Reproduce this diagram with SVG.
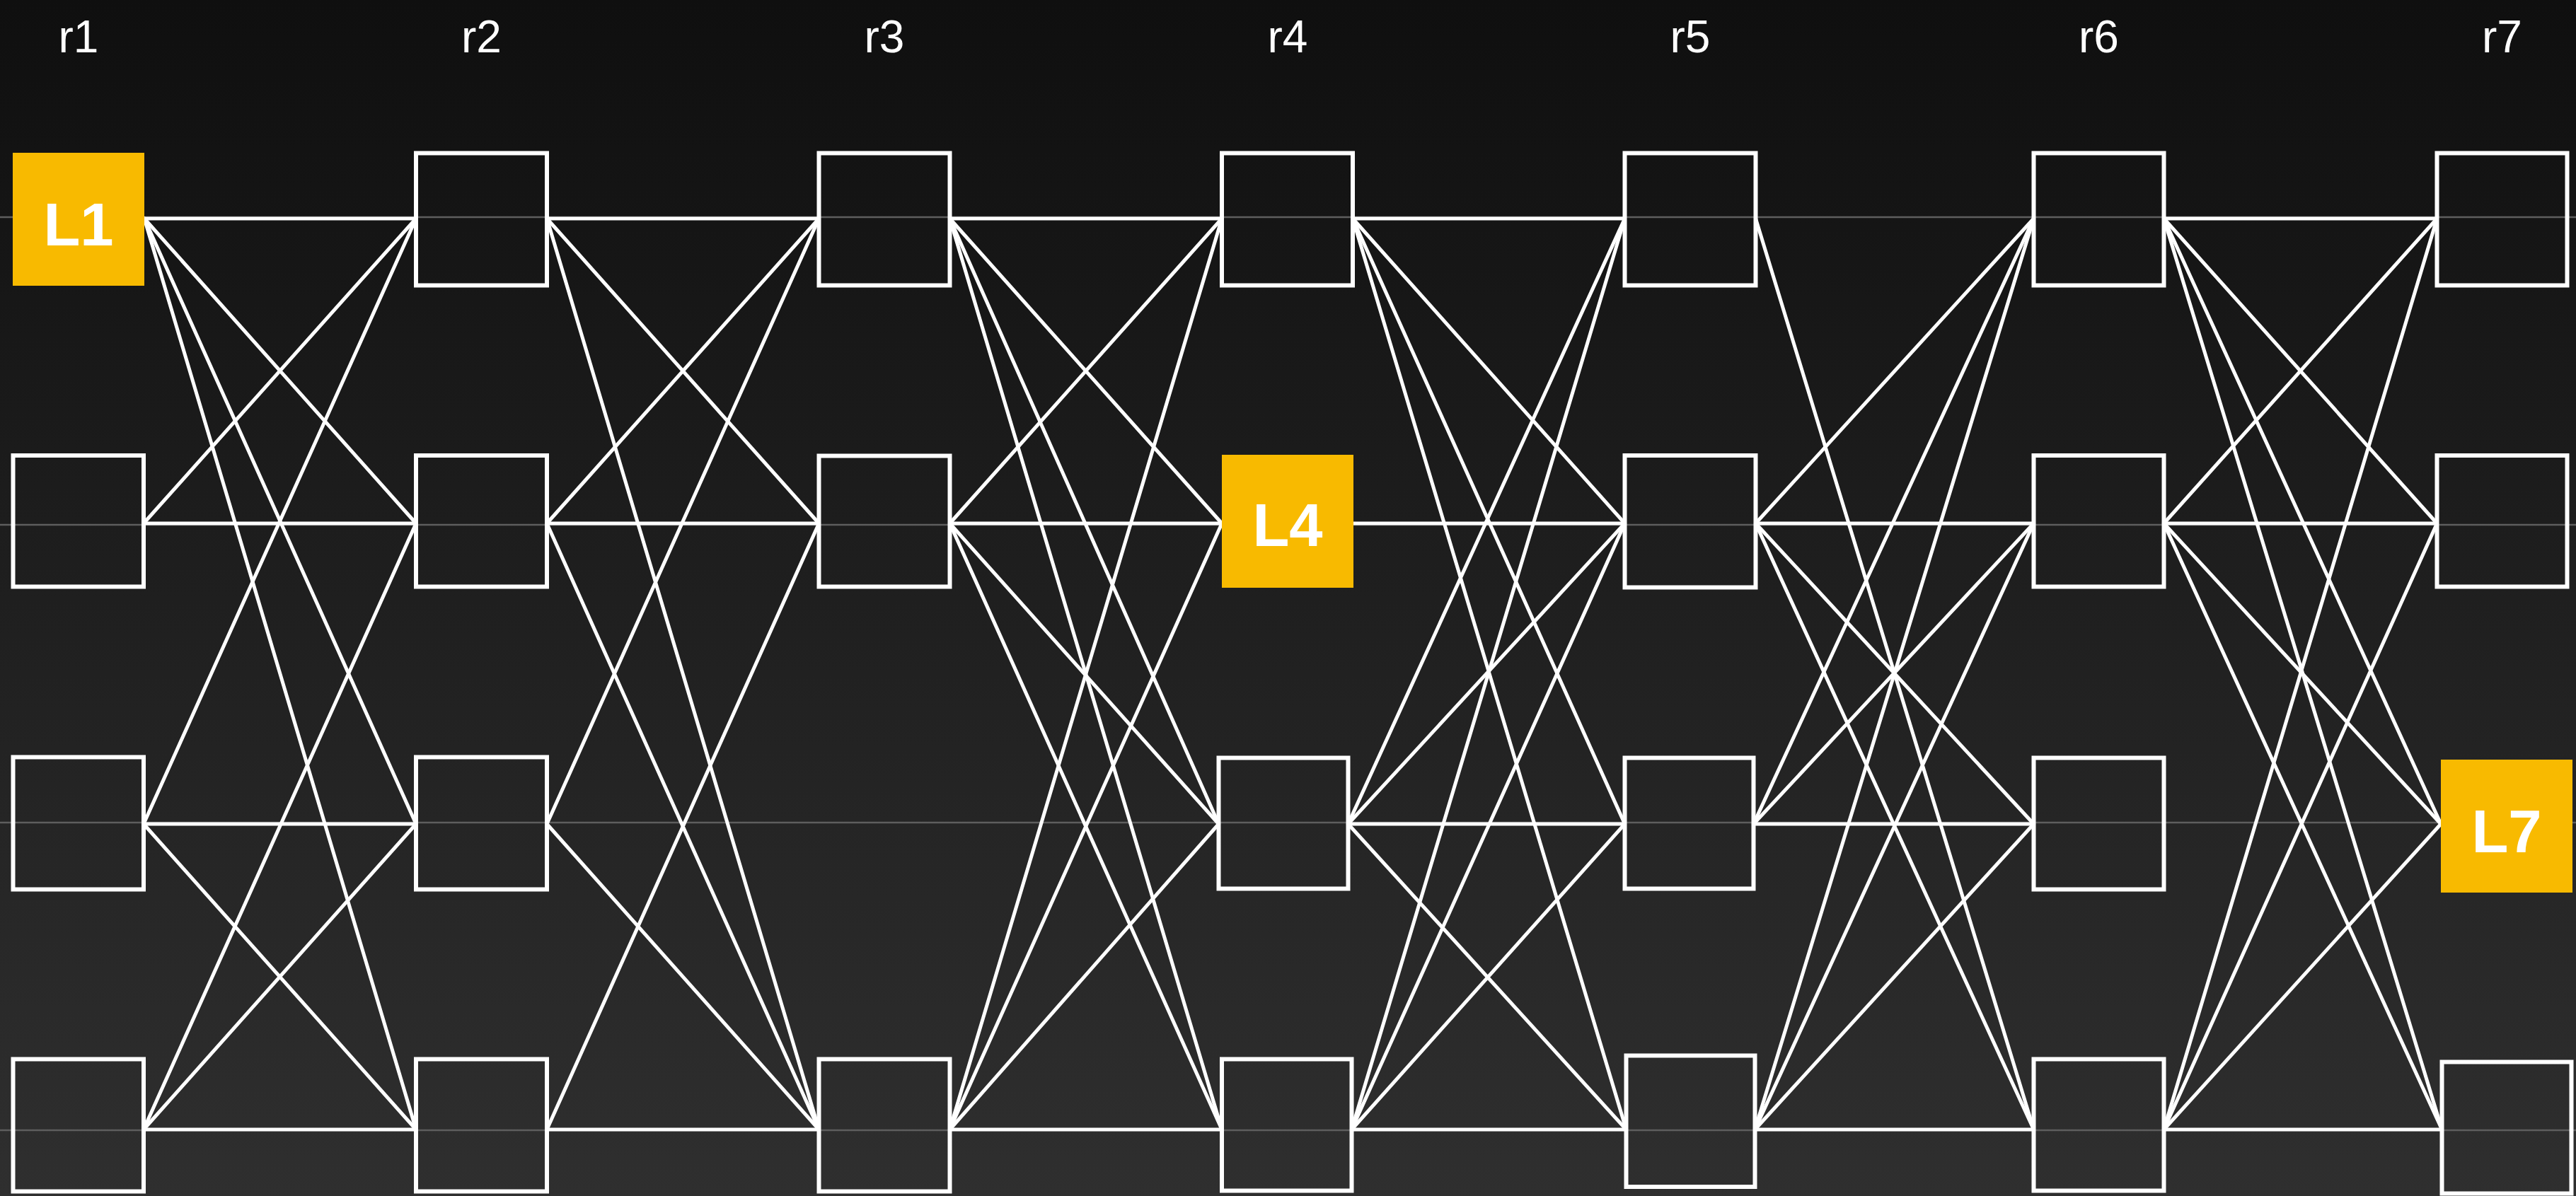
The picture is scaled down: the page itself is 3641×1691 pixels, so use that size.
<svg xmlns="http://www.w3.org/2000/svg" width="3641" height="1691" viewBox="0 0 3641 1691">
<defs>
<linearGradient id="bg" x1="0" y1="0" x2="0" y2="1">
<stop offset="0" stop-color="#0f0f0f"/>
<stop offset="1" stop-color="#2f2f2f"/>
</linearGradient>
<style>
.guide{stroke:#5e5e5e;stroke-width:2.5;fill:none}
.edge{stroke:#ffffff;stroke-width:5;fill:none;stroke-linecap:round}
.box{fill:none;stroke:#ffffff;stroke-width:6}
.hl{fill:#F8BA00;stroke:none}
.col{font-family:"Liberation Sans",Arial,sans-serif;font-size:64px;fill:#ffffff;text-anchor:middle}
.lab{font-family:"Liberation Sans",Arial,sans-serif;font-size:85px;font-weight:bold;fill:#ffffff;text-anchor:middle}
</style>
</defs>
<rect x="0" y="0" width="3641" height="1691" fill="url(#bg)"/>
<g id="column-labels">
<text class="col" x="111" y="74">r1</text>
<text class="col" x="680.5" y="74">r2</text>
<text class="col" x="1250" y="74">r3</text>
<text class="col" x="1820" y="74">r4</text>
<text class="col" x="2389" y="74">r5</text>
<text class="col" x="2966.5" y="74">r6</text>
<text class="col" x="3536.5" y="74">r7</text>
</g>
<g id="guides">
<line class="guide" x1="0" y1="307" x2="3641" y2="307"/>
<line class="guide" x1="0" y1="742" x2="3641" y2="742"/>
<line class="guide" x1="0" y1="1163" x2="3641" y2="1163"/>
<line class="guide" x1="0" y1="1598" x2="3641" y2="1598"/>
</g>
<g id="connectors">
<line class="edge" x1="204" y1="309" x2="588" y2="309"/>
<line class="edge" x1="204" y1="309" x2="588" y2="740"/>
<line class="edge" x1="204" y1="309" x2="588" y2="1165"/>
<line class="edge" x1="204" y1="309" x2="588" y2="1597"/>
<line class="edge" x1="203" y1="740" x2="588" y2="309"/>
<line class="edge" x1="203" y1="740" x2="588" y2="740"/>
<line class="edge" x1="203" y1="1165" x2="588" y2="309"/>
<line class="edge" x1="203" y1="1165" x2="588" y2="1165"/>
<line class="edge" x1="203" y1="1165" x2="588" y2="1597"/>
<line class="edge" x1="203" y1="1597" x2="588" y2="740"/>
<line class="edge" x1="203" y1="1597" x2="588" y2="1165"/>
<line class="edge" x1="203" y1="1597" x2="588" y2="1597"/>

<line class="edge" x1="773" y1="309" x2="1157.5" y2="309"/>
<line class="edge" x1="773" y1="309" x2="1157.5" y2="740"/>
<line class="edge" x1="773" y1="309" x2="1157.5" y2="1597"/>
<line class="edge" x1="773" y1="740" x2="1157.5" y2="309"/>
<line class="edge" x1="773" y1="740" x2="1157.5" y2="740"/>
<line class="edge" x1="773" y1="740" x2="1157.5" y2="1597"/>
<line class="edge" x1="773" y1="1165" x2="1157.5" y2="309"/>
<line class="edge" x1="773" y1="1165" x2="1157.5" y2="1597"/>
<line class="edge" x1="773" y1="1597" x2="1157.5" y2="740"/>
<line class="edge" x1="773" y1="1597" x2="1157.5" y2="1597"/>

<line class="edge" x1="1342.5" y1="309" x2="1727" y2="309"/>
<line class="edge" x1="1342.5" y1="309" x2="1727" y2="740"/>
<line class="edge" x1="1342.5" y1="309" x2="1722.5" y2="1165"/>
<line class="edge" x1="1342.5" y1="309" x2="1727" y2="1597"/>
<line class="edge" x1="1342.5" y1="740" x2="1727" y2="309"/>
<line class="edge" x1="1342.5" y1="740" x2="1727" y2="740"/>
<line class="edge" x1="1342.5" y1="740" x2="1722.5" y2="1165"/>
<line class="edge" x1="1342.5" y1="740" x2="1727" y2="1597"/>
<line class="edge" x1="1342.5" y1="1597" x2="1727" y2="309"/>
<line class="edge" x1="1342.5" y1="1597" x2="1727" y2="740"/>
<line class="edge" x1="1342.5" y1="1597" x2="1722.5" y2="1165"/>
<line class="edge" x1="1342.5" y1="1597" x2="1727" y2="1597"/>

<line class="edge" x1="1912" y1="309" x2="2296.5" y2="309"/>
<line class="edge" x1="1912" y1="309" x2="2296.5" y2="740"/>
<line class="edge" x1="1912" y1="309" x2="2296.5" y2="1165"/>
<line class="edge" x1="1912" y1="309" x2="2298.5" y2="1597"/>
<line class="edge" x1="1913" y1="740" x2="2296.5" y2="740"/>
<line class="edge" x1="1905.5" y1="1165" x2="2296.5" y2="309"/>
<line class="edge" x1="1905.5" y1="1165" x2="2296.5" y2="740"/>
<line class="edge" x1="1905.5" y1="1165" x2="2296.5" y2="1165"/>
<line class="edge" x1="1905.5" y1="1165" x2="2298.5" y2="1597"/>
<line class="edge" x1="1910.5" y1="1597" x2="2296.5" y2="309"/>
<line class="edge" x1="1910.5" y1="1597" x2="2296.5" y2="740"/>
<line class="edge" x1="1910.5" y1="1597" x2="2296.5" y2="1165"/>
<line class="edge" x1="1910.5" y1="1597" x2="2298.5" y2="1597"/>

<line class="edge" x1="2481.5" y1="309" x2="2874.5" y2="1597"/>
<line class="edge" x1="2481.5" y1="740" x2="2874.5" y2="309"/>
<line class="edge" x1="2481.5" y1="740" x2="2874.5" y2="740"/>
<line class="edge" x1="2481.5" y1="740" x2="2874.5" y2="1165"/>
<line class="edge" x1="2481.5" y1="740" x2="2874.5" y2="1597"/>
<line class="edge" x1="2478.5" y1="1165" x2="2874.5" y2="309"/>
<line class="edge" x1="2478.5" y1="1165" x2="2874.5" y2="740"/>
<line class="edge" x1="2478.5" y1="1165" x2="2874.5" y2="1165"/>
<line class="edge" x1="2480.5" y1="1597" x2="2874.5" y2="309"/>
<line class="edge" x1="2480.5" y1="1597" x2="2874.5" y2="740"/>
<line class="edge" x1="2480.5" y1="1597" x2="2874.5" y2="1165"/>
<line class="edge" x1="2480.5" y1="1597" x2="2874.5" y2="1597"/>

<line class="edge" x1="3058.5" y1="309" x2="3444.5" y2="309"/>
<line class="edge" x1="3058.5" y1="309" x2="3444.5" y2="740"/>
<line class="edge" x1="3058.5" y1="309" x2="3450" y2="1165"/>
<line class="edge" x1="3058.5" y1="309" x2="3451.5" y2="1597"/>
<line class="edge" x1="3058.5" y1="740" x2="3444.5" y2="309"/>
<line class="edge" x1="3058.5" y1="740" x2="3444.5" y2="740"/>
<line class="edge" x1="3058.5" y1="740" x2="3450" y2="1165"/>
<line class="edge" x1="3058.5" y1="740" x2="3451.5" y2="1597"/>
<line class="edge" x1="3058.5" y1="1597" x2="3444.5" y2="309"/>
<line class="edge" x1="3058.5" y1="1597" x2="3444.5" y2="740"/>
<line class="edge" x1="3058.5" y1="1597" x2="3450" y2="1165"/>
<line class="edge" x1="3058.5" y1="1597" x2="3451.5" y2="1597"/>
</g>
<g id="nodes">
<g id="n1-1"><rect class="hl" x="18" y="216" width="186" height="188"/><text class="lab" x="111" y="347">L1</text></g>
<g id="n1-2"><rect class="box" x="18.5" y="644" width="184.5" height="185.5"/></g>
<g id="n1-3"><rect class="box" x="18.5" y="1070.5" width="184.5" height="187"/></g>
<g id="n1-4"><rect class="box" x="18.5" y="1497.5" width="184.5" height="187"/></g>

<g id="n2-1"><rect class="box" x="588" y="216.5" width="185" height="187"/></g>
<g id="n2-2"><rect class="box" x="588" y="644" width="185" height="185.5"/></g>
<g id="n2-3"><rect class="box" x="588" y="1070.5" width="185" height="187"/></g>
<g id="n2-4"><rect class="box" x="588" y="1497.5" width="185" height="187"/></g>

<g id="n3-1"><rect class="box" x="1157.5" y="216.5" width="185" height="187"/></g>
<g id="n3-2"><rect class="box" x="1157.5" y="644.5" width="185" height="185"/></g>
<g id="n3-4"><rect class="box" x="1157.5" y="1497.5" width="185" height="187"/></g>

<g id="n4-1"><rect class="box" x="1727" y="216.5" width="185" height="187"/></g>
<g id="n4-2"><rect class="hl" x="1727" y="643" width="186" height="188"/><text class="lab" x="1820" y="772">L4</text></g>
<g id="n4-3"><rect class="box" x="1722.5" y="1071.5" width="183" height="185"/></g>
<g id="n4-4"><rect class="box" x="1727" y="1497.5" width="183.5" height="186"/></g>

<g id="n5-1"><rect class="box" x="2296.5" y="216.5" width="185" height="187"/></g>
<g id="n5-2"><rect class="box" x="2296.5" y="644" width="185" height="186.5"/></g>
<g id="n5-3"><rect class="box" x="2296.5" y="1071.5" width="182" height="185"/></g>
<g id="n5-4"><rect class="box" x="2298.5" y="1492.5" width="182" height="185.5"/></g>

<g id="n6-1"><rect class="box" x="2874.5" y="216.5" width="184" height="187"/></g>
<g id="n6-2"><rect class="box" x="2874.5" y="644" width="184" height="185.5"/></g>
<g id="n6-3"><rect class="box" x="2874.5" y="1071.5" width="184" height="186"/></g>
<g id="n6-4"><rect class="box" x="2874.5" y="1497.5" width="184" height="186"/></g>

<g id="n7-1"><rect class="box" x="3444.5" y="216.5" width="184" height="187"/></g>
<g id="n7-2"><rect class="box" x="3444.5" y="644" width="184" height="185.5"/></g>
<g id="n7-3"><rect class="hl" x="3450" y="1074" width="186" height="188"/><text class="lab" x="3543" y="1205">L7</text></g>
<g id="n7-4"><rect class="box" x="3451.5" y="1501.5" width="183" height="186"/></g>
</g>
</svg>
